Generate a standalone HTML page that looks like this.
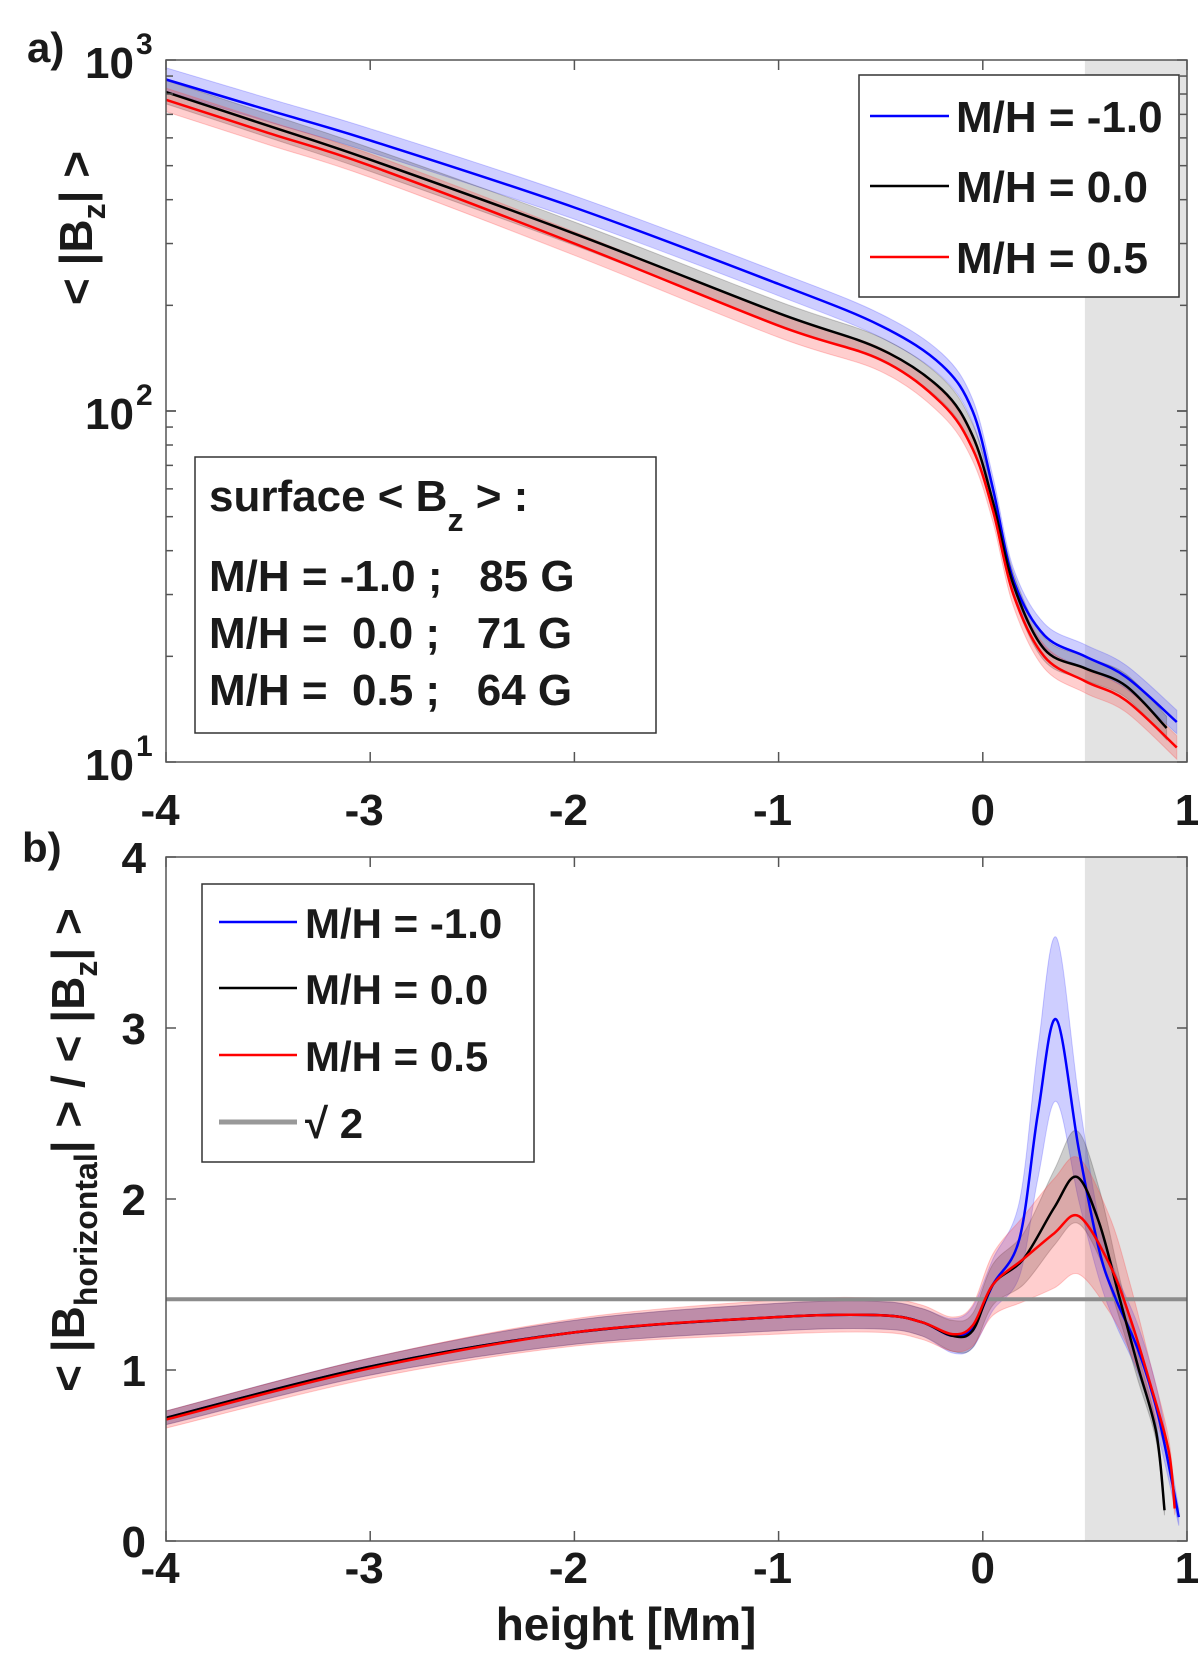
<!DOCTYPE html>
<html><head><meta charset="utf-8"><style>
html,body{margin:0;padding:0;background:#fff}
svg text{font-family:"Liberation Sans",Arial,sans-serif;font-weight:bold;fill:#1a1a1a}
</style></head><body>
<svg id="fig" width="1200" height="1660" viewBox="0 0 1200 1660" xmlns="http://www.w3.org/2000/svg">
<g id="pa"></g>
<g id="pb"></g>
</svg>
<script>
// ---------- data ----------
const aX_blue  = [-4,-3.5,-3,-2,-1,-0.5,-0.2,-0.05,0.05,0.15,0.3,0.5,0.7,0.95];
const aY_blue  = [880,720,590,380,230,175,135,100,60,33,23,20,17.5,13];
const aX_black = [-4,-3.5,-3,-2,-1,-0.5,-0.2,-0.05,0.05,0.15,0.3,0.5,0.7,0.9];
const aY_black = [810,650,520,320,190,150,115,85,55,32,21,18.5,16.5,12.5];
const aX_red   = [-4,-3.5,-3,-2,-1,-0.5,-0.2,-0.05,0.05,0.15,0.3,0.5,0.7,0.95];
const aY_red   = [770,620,500,300,175,140,105,78,52,30,20,17,15,11];

const bX_blue  = [-4,-3,-2,-1,-0.5,-0.3,-0.15,-0.05,0.05,0.18,0.27,0.36,0.47,0.57,0.65,0.76,0.86,0.96];
const bY_blue  = [0.72,1.02,1.22,1.31,1.32,1.28,1.2,1.25,1.5,1.77,2.5,3.05,2.29,1.70,1.42,1.12,0.73,0.14];
const bE_blue  = [0.04,0.05,0.07,0.08,0.08,0.08,0.1,0.12,0.15,0.22,0.38,0.48,0.3,0.17,0.15,0.14,0.12,0.05];
const bX_black = [-4,-3,-2,-1,-0.5,-0.3,-0.15,-0.05,0.05,0.2,0.35,0.46,0.57,0.67,0.76,0.85,0.89];
const bY_black = [0.72,1.02,1.22,1.31,1.32,1.28,1.2,1.23,1.5,1.65,1.95,2.13,1.86,1.42,1.02,0.63,0.18];
const bE_black = [0.04,0.05,0.07,0.08,0.08,0.08,0.09,0.1,0.12,0.15,0.22,0.27,0.2,0.12,0.08,0.05,0.03];
const bX_red   = [-4,-3,-2,-1,-0.5,-0.3,-0.15,-0.05,0.05,0.2,0.35,0.47,0.62,0.72,0.82,0.91,0.94];
const bY_red   = [0.71,1.01,1.22,1.31,1.32,1.28,1.21,1.26,1.5,1.65,1.8,1.9,1.62,1.31,0.92,0.53,0.19];
const bE_red   = [0.05,0.06,0.08,0.1,0.1,0.1,0.1,0.12,0.18,0.25,0.32,0.34,0.28,0.2,0.12,0.07,0.04];
const sqrt2 = 1.414;

const xTicks = [-4,-3,-2,-1,0,1];
const aYTicks = [1,2,3];          // exponents
const bYTicks = [0,1,2,3,4];

// ---------- axes ----------
const X0=166, X1=1187;
const xs = v => X0 + (v+4)*(X1-X0)/5;
const aTop=60, aBot=762;
const ya = v => aBot - (Math.log10(v)-1)*(aBot-aTop)/2;
const bTop=857, bBot=1541;
const yb = v => bBot - v*(bBot-bTop)/4;

const NS="http://www.w3.org/2000/svg";
function mk(parent,tag,attrs){const e=document.createElementNS(NS,tag);for(const k in attrs)e.setAttribute(k,attrs[k]);parent.appendChild(e);return e;}
function smooth(pts){
  let d="M"+pts[0][0].toFixed(1)+","+pts[0][1].toFixed(1);
  for(let i=0;i<pts.length-1;i++){
    const p0=pts[Math.max(0,i-1)],p1=pts[i],p2=pts[i+1],p3=pts[Math.min(pts.length-1,i+2)];
    const c1=[p1[0]+(p2[0]-p0[0])/6,p1[1]+(p2[1]-p0[1])/6];
    const c2=[p2[0]-(p3[0]-p1[0])/6,p2[1]-(p3[1]-p1[1])/6];
    d+=" C"+c1.map(v=>v.toFixed(1))+" "+c2.map(v=>v.toFixed(1))+" "+p2[0].toFixed(1)+","+p2[1].toFixed(1);
  }
  return d;
}
function revPath(pts){return smooth(pts).replace(/^M/," L");}

const pa=document.getElementById('pa'), pb=document.getElementById('pb');

let s=mk(pa,'rect',{x:xs(0.5),y:aTop,width:X1-xs(0.5),height:aBot-aTop,fill:'#e3e3e3'});


s=mk(pb,'rect',{x:xs(0.5),y:bTop,width:X1-xs(0.5),height:bBot-bTop,fill:'#e3e3e3'});



const colors={blue:'#0000ff',black:'#000000',red:'#ff0000'};
const fills={blue:'rgba(60,60,255,0.25)',black:'rgba(60,60,60,0.25)',red:'rgba(255,60,60,0.25)'};

const aSeries={blue:[aX_blue,aY_blue],black:[aX_black,aY_black],red:[aX_red,aY_red]};
for(const k in aSeries){
  const [xv,yv]=aSeries[k];
  const up=xv.map((x,i)=>[xs(x),ya(yv[i]*1.08)]);
  const lo=xv.map((x,i)=>[xs(x),ya(yv[i]/1.08)]).reverse();
  const band=mk(pa,'path',{d:smooth(up)+revPath(lo)+" Z",fill:fills[k],stroke:fills[k],'stroke-width':1});
  
  
}
for(const k in aSeries){
  const [xv,yv]=aSeries[k];
  const ln=mk(pa,'path',{d:smooth(xv.map((x,i)=>[xs(x),ya(yv[i])])),fill:'none',stroke:colors[k],'stroke-width':2.5});
  
  
}

const bSeries={blue:[bX_blue,bY_blue,bE_blue],black:[bX_black,bY_black,bE_black],red:[bX_red,bY_red,bE_red]};
for(const k of ['blue','black','red']){
  const [xv,yv,ev]=bSeries[k];
  const up=xv.map((x,i)=>[xs(x),yb(yv[i]+ev[i])]);
  const lo=xv.map((x,i)=>[xs(x),yb(Math.max(0,yv[i]-ev[i]))]).reverse();
  const band=mk(pb,'path',{d:smooth(up)+revPath(lo)+" Z",fill:fills[k],stroke:fills[k],'stroke-width':1});
  
  
}
let sl=mk(pb,'line',{x1:X0,x2:X1,y1:yb(sqrt2),y2:yb(sqrt2),stroke:'#8c8c8c','stroke-width':4});


for(const k of ['blue','black','red']){
  const [xv,yv]=bSeries[k];
  const ln=mk(pb,'path',{d:smooth(xv.map((x,i)=>[xs(x),yb(yv[i])])),fill:'none',stroke:colors[k],'stroke-width':2.5});
  
  
}

function frame(g,top,bot,name){
  const r=mk(g,'rect',{x:X0,y:top,width:X1-X0,height:bot-top,fill:'none',stroke:'#555','stroke-width':1.5});
  
  
  xTicks.forEach(t=>{
    mk(g,'line',{x1:xs(t),x2:xs(t),y1:bot,y2:bot-10,stroke:'#555','stroke-width':1.5});
    mk(g,'line',{x1:xs(t),x2:xs(t),y1:top,y2:top+10,stroke:'#555','stroke-width':1.5});
  });
}
frame(pa,aTop,aBot,'axes-a');
frame(pb,bTop,bBot,'axes-b');
for(let d=1;d<=2;d++)for(let m=1;m<=10;m++){
  const v=m*Math.pow(10,d), len=(m===1||m===10)?10:7;
  mk(pa,'line',{x1:X0,x2:X0+len,y1:ya(v),y2:ya(v),stroke:'#555','stroke-width':1.5});
  mk(pa,'line',{x1:X1,x2:X1-len,y1:ya(v),y2:ya(v),stroke:'#555','stroke-width':1.5});
}
bYTicks.forEach(t=>{
  mk(pb,'line',{x1:X0,x2:X0+10,y1:yb(t),y2:yb(t),stroke:'#555','stroke-width':1.5});
  mk(pb,'line',{x1:X1,x2:X1-10,y1:yb(t),y2:yb(t),stroke:'#555','stroke-width':1.5});
});

function txt(g,x,y,str,size,anchor,name){
  const t=mk(g,'text',{x:x,y:y,'font-size':size,'text-anchor':anchor||'middle'});
  t.textContent=str;
  
  
  return t;
}
xTicks.forEach(t=>{
  txt(pa,xs(t)-(t<0?6:0),825,String(t),44,'middle','x-tick-a-'+t);
  txt(pb,xs(t)-(t<0?6:0),1583,String(t),44,'middle','x-tick-b-'+t);
});
aYTicks.forEach(e=>{
  txt(pa,134,ya(Math.pow(10,e))+18,'10',44,'end','y-tick-a-1e'+e);
  const sp=mk(pa,'text',{x:136,y:ya(Math.pow(10,e))-6,'font-size':30,'text-anchor':'start'});
  sp.textContent=String(e);
  
  
});
bYTicks.forEach(t=>txt(pb,146,yb(t)+16,String(t),44,'end','y-tick-b-'+t));
</script>

<svg style="position:absolute;left:0;top:0" width="1200" height="1660">
  <text x="27" y="62" font-size="42">a)</text>
  <text x="22" y="862" font-size="42">b)</text>
  <text transform="translate(92,228) rotate(-90)" text-anchor="middle" font-size="46">&lt; |B<tspan font-size="32" dy="13">z</tspan><tspan dy="-13">| &gt;</tspan></text>
  <text transform="translate(84,1150) rotate(-90)" text-anchor="middle" font-size="46">&lt; |B<tspan font-size="32" dy="13">horizontal</tspan><tspan dy="-13">| &gt; / &lt; |B</tspan><tspan font-size="32" dy="13">z</tspan><tspan dy="-13">| &gt;</tspan></text>
  <text x="626" y="1640" text-anchor="middle" font-size="46">height [Mm]</text>

  <g>
    <rect x="859" y="75" width="320" height="222" fill="#fff" stroke="#333" stroke-width="1.5"/>
    <line x1="870" x2="949" y1="116" y2="116" stroke="#0000ff" stroke-width="2.5"/>
    <text x="956" y="132" font-size="44">M/H = -1.0</text>
    <line x1="870" x2="949" y1="186" y2="186" stroke="#000" stroke-width="2.5"/>
    <text x="956" y="202" font-size="44">M/H = 0.0</text>
    <line x1="870" x2="949" y1="257" y2="257" stroke="#ff0000" stroke-width="2.5"/>
    <text x="956" y="273" font-size="44">M/H = 0.5</text>
  </g>

  <g>
    <rect x="195" y="457" width="461" height="276" fill="#fff" stroke="#333" stroke-width="1.5"/>
    <text x="209" y="511" font-size="44">surface &lt; B<tspan font-size="32" dy="20">z</tspan><tspan dy="-20"> &gt; :</tspan></text>
    <text x="209" y="591" font-size="44" xml:space="preserve">M/H = -1.0 ;   85 G</text>
    <text x="209" y="648" font-size="44" xml:space="preserve">M/H =  0.0 ;   71 G</text>
    <text x="209" y="705" font-size="44" xml:space="preserve">M/H =  0.5 ;   64 G</text>
  </g>

  <g>
    <rect x="202" y="884" width="332" height="278" fill="#fff" stroke="#333" stroke-width="1.5"/>
    <line x1="219" x2="297" y1="922" y2="922" stroke="#0000ff" stroke-width="2.5"/>
    <text x="305" y="938" font-size="42">M/H = -1.0</text>
    <line x1="219" x2="297" y1="988" y2="988" stroke="#000" stroke-width="2.5"/>
    <text x="305" y="1004" font-size="42">M/H = 0.0</text>
    <line x1="219" x2="297" y1="1055" y2="1055" stroke="#ff0000" stroke-width="2.5"/>
    <text x="305" y="1071" font-size="42">M/H = 0.5</text>
    <line x1="219" x2="297" y1="1122" y2="1122" stroke="#999" stroke-width="5"/>
    <text x="305" y="1138" font-size="42">√ 2</text>
  </g>
</svg>
</body></html>
